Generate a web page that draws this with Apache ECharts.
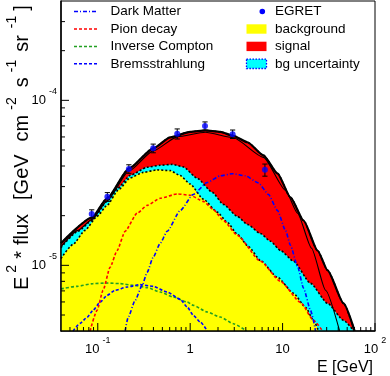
<!DOCTYPE html>
<html><head><meta charset="utf-8">
<script src="https://cdn.jsdelivr.net/npm/echarts@6/dist/echarts.min.js"></script>
<style>html,body{margin:0;padding:0;background:#fff}#c{width:390px;height:376px}</style>
</head><body><div id="c"></div>
<script>
// ---------- data (energies in GeV, E^2*flux in GeV cm^-2 s^-1 sr^-1) ----------
const egretE    = [0.086, 0.127, 0.217, 0.398, 0.724, 1.447, 2.88, 6.44];
const egretFlux = [2.05e-5, 2.60e-5, 3.84e-5, 5.12e-5, 6.27e-5, 6.98e-5, 6.24e-5, 3.79e-5];
const egretErr  = [1.2e-6, 1.6e-6, 2.3e-6, 3.1e-6, 4.4e-6, 4.2e-6, 3.7e-6, 3.2e-6];

const totalE    = [0.04, 0.0867, 0.126, 0.2185, 0.398, 0.608, 1.0, 1.458, 2.121, 2.935, 4.163, 6.206, 8.807, 12.18, 16.86, 23.9, 30.69, 45.77, 60.2];
const totalFlux = [1.36e-5, 1.95e-5, 2.55e-5, 3.87e-5, 5.12e-5, 5.97e-5, 6.44e-5, 6.58e-5, 6.44e-5, 6.09e-5, 5.57e-5, 4.64e-5, 3.61e-5, 2.58e-5, 1.87e-5, 1.23e-5, 9.32e-6, 5.88e-6, 4.0e-6];

const lowerE    = [0.04, 0.0611, 0.0867, 0.126, 0.2185, 0.398, 0.7246, 1.458, 2.935, 6.206, 10.75, 14.51, 20.58, 29.2, 41.41];
const lowerFlux = [1.30e-5, 1.63e-5, 1.90e-5, 2.46e-5, 3.74e-5, 4.94e-5, 6.01e-5, 6.40e-5, 5.93e-5, 4.51e-5, 2.85e-5, 2.07e-5, 1.27e-5, 7.06e-6, 4.0e-6];

const bgHighE    = [0.04, 0.0611, 0.0867, 0.126, 0.166, 0.224, 0.342, 0.474, 0.639, 0.842, 1.194, 1.737, 2.286, 3.243, 4.163, 5.758, 7.393, 9.489, 13.13, 20.07, 30.69, 45.77, 58.75];
const bgHighFlux = [1.28e-5, 1.61e-5, 1.87e-5, 2.44e-5, 2.95e-5, 3.51e-5, 3.93e-5, 4.04e-5, 4.09e-5, 3.95e-5, 3.37e-5, 2.77e-5, 2.34e-5, 1.98e-5, 1.77e-5, 1.56e-5, 1.40e-5, 1.23e-5, 1.06e-5, 7.78e-6, 5.88e-6, 4.64e-6, 4.0e-6];

const bgE    = [0.04, 0.054, 0.0728, 0.0983, 0.126, 0.166, 0.224, 0.31, 0.44, 0.608, 0.781, 1.0, 1.387, 1.967, 2.526, 3.243, 4.268, 5.758, 8.807, 13.13, 17.72, 21.63, 24.51];
const bgFlux = [1.10e-5, 1.34e-5, 1.63e-5, 1.98e-5, 2.31e-5, 2.85e-5, 3.39e-5, 3.66e-5, 3.79e-5, 3.75e-5, 3.50e-5, 3.11e-5, 2.52e-5, 2.10e-5, 1.82e-5, 1.54e-5, 1.30e-5, 1.07e-5, 8.46e-6, 6.77e-6, 5.57e-6, 4.64e-6, 4.0e-6];

const dmE    = [0.1977, 0.2131, 0.2539, 0.3022, 0.3424, 0.398, 0.474, 0.5644, 0.781, 1.08, 1.532, 2.121, 2.862, 3.959, 5.478, 7.034, 8.807, 10.75, 12.18, 14.51, 16.86, 20.07, 22.74];
const dmFlux = [4.0e-6, 4.84e-6, 6.14e-6, 7.57e-6, 9.07e-6, 1.12e-5, 1.36e-5, 1.61e-5, 2.15e-5, 2.69e-5, 3.18e-5, 3.49e-5, 3.59e-5, 3.49e-5, 3.16e-5, 2.69e-5, 2.15e-5, 1.63e-5, 1.32e-5, 9.86e-6, 7.26e-6, 5.34e-6, 4.0e-6];

const pionE    = [0.0825, 0.0983, 0.1141, 0.1359, 0.1619, 0.1977, 0.2668, 0.3424, 0.4739, 0.7246, 1.0, 1.387, 1.78, 2.286, 3.243, 5.758, 9.489, 15.64, 21.63, 27.09];
const pionFlux = [4.0e-6, 5.34e-6, 7.06e-6, 9.73e-6, 1.23e-5, 1.61e-5, 2.07e-5, 2.31e-5, 2.55e-5, 2.71e-5, 2.66e-5, 2.44e-5, 2.18e-5, 1.87e-5, 1.52e-5, 1.06e-5, 8.0e-6, 5.97e-6, 4.64e-6, 4.0e-6];

const icE    = [0.04, 0.0596, 0.0889, 0.126, 0.1745, 0.2415, 0.3424, 0.474, 0.6556, 0.93, 1.08, 1.532, 2.121, 2.935, 4.06];
const icFlux = [7.2e-6, 7.46e-6, 7.75e-6, 7.81e-6, 7.75e-6, 7.57e-6, 7.33e-6, 6.89e-6, 6.43e-6, 5.99e-6, 5.72e-6, 5.21e-6, 4.86e-6, 4.43e-6, 4.0e-6];

const bremsE    = [0.054, 0.0643, 0.0766, 0.0889, 0.1059, 0.126, 0.154, 0.2078, 0.2875, 0.398, 0.5644, 0.781, 0.93, 1.08, 1.287, 1.532];
const bremsFlux = [4.0e-6, 4.45e-6, 4.84e-6, 5.34e-6, 5.97e-6, 6.58e-6, 7.06e-6, 7.39e-6, 7.64e-6, 7.46e-6, 6.89e-6, 6.22e-6, 5.59e-6, 4.98e-6, 4.53e-6, 4.0e-6];

// axis ranges and ticks
const xRange = [0.04, 100];
const yRange = [4e-6, 4e-4];
const xMajorTicks = [0.1, 1, 10, 100];
const xMinorTicks = [0.05, 0.06, 0.07, 0.08, 0.09, 0.2, 0.3, 0.4, 0.5, 0.6, 0.7, 0.8, 0.9, 2, 3, 4, 5, 6, 7, 8, 9, 20, 30, 40, 50, 60, 70, 80, 90];
const yMajorTicks = [1e-5, 1e-4];
const yMinorTicks = [5e-6, 6e-6, 7e-6, 8e-6, 9e-6, 2e-5, 3e-5, 4e-5, 5e-5, 6e-5, 7e-5, 8e-5, 9e-5, 2e-4, 3e-4];

const legendLines = ['Dark Matter', 'Pion decay', 'Inverse Compton', 'Bremsstrahlung'];
const legendBoxes = ['EGRET', 'background', 'signal', 'bg uncertainty'];
const xTitle = 'E [GeV]';

// ---------- chart ----------
const FONT = '"Liberation Sans", Arial, Helvetica, sans-serif';
const pairs = (xs, ys) => xs.map((x, i) => [x, ys[i]]);
const chart = echarts.init(document.getElementById('c'), null, {renderer: 'canvas'});

function powLabel(v) {
  const l = Math.log10(v), p = Math.round(l);
  if (Math.abs(l - p) > 1e-6) return '';
  if (p === 0) return '{b|1}';
  if (p === 1) return '{b|10}';
  return '{b|10}{s|' + p + '}';
}
const labelRich = {
  b: {fontSize: 13, fontFamily: FONT, color: '#000', lineHeight: 22},
  s: {fontSize: 9, fontFamily: FONT, color: '#000', lineHeight: 5, padding: [0, 0, 17, 3]}
};

const SMOOTH = 0.2;
const lineSeries = (name, xs, ys, color, dash, width, z) => ({
  type: 'line', name, data: pairs(xs, ys), symbol: 'none', smooth: SMOOTH, smoothMonotone: 'x',
  lineStyle: {color, type: dash, width}, z, silent: true, clip: true
});
const areaSeries = (name, xs, ys, fill, z) => ({
  type: 'line', name, data: pairs(xs, ys), symbol: 'none', smooth: SMOOTH, smoothMonotone: 'x',
  lineStyle: {color: '#000', type: [2, 2], width: 1.6},
  areaStyle: {color: fill, opacity: 1, origin: 'start'}, z, silent: true, clip: true
});

const legendRowsY = [11.5, 29, 46.4, 63.8];
const graphic = [];
legendLines.forEach((t, i) => {
  graphic.push({type: 'text', x: 110.5, y: legendRowsY[i], z: 20,
    style: {text: t, font: '13.5px ' + FONT, fill: '#000', align: 'left', verticalAlign: 'middle'}});
  graphic.push({type: 'text', x: 275, y: legendRowsY[i], z: 20,
    style: {text: legendBoxes[i], font: '13.5px ' + FONT, fill: '#000', align: 'left', verticalAlign: 'middle'}});
});
const legStyles = [
  {stroke: '#0000ff', lineDash: [4, 2, 1, 2]},
  {stroke: '#ff0000', lineDash: [3, 2]},
  {stroke: '#22a022', lineDash: [3, 2]},
  {stroke: '#0000ff', lineDash: [3, 2]}
];
legStyles.forEach((s, i) => graphic.push({type: 'line', z: 20,
  shape: {x1: 74, y1: legendRowsY[i], x2: 98, y2: legendRowsY[i]},
  style: Object.assign({lineWidth: 1.5}, s)}));
graphic.push({type: 'circle', z: 20, shape: {cx: 262.3, cy: legendRowsY[0], r: 2.8}, style: {fill: '#0000ff'}});
graphic.push({type: 'rect', z: 20, shape: {x: 246.5, y: legendRowsY[1] - 4.7, width: 20, height: 9.4}, style: {fill: '#ffff00'}});
graphic.push({type: 'rect', z: 20, shape: {x: 246.5, y: legendRowsY[2] - 4.7, width: 20, height: 9.4}, style: {fill: '#ff0000'}});
graphic.push({type: 'rect', z: 20, shape: {x: 246.5, y: legendRowsY[3] - 4.7, width: 20, height: 9.4},
  style: {fill: '#00ffff', stroke: '#0000ff', lineWidth: 1.3, lineDash: [1.5, 1.5]}});
// axis titles
graphic.push({type: 'text', x: 373, y: 368, z: 20,
  style: {text: xTitle, font: '16px ' + FONT, fill: '#000', align: 'right', verticalAlign: 'middle'}});
const M = {fontSize: 20, fontFamily: FONT, fill: '#000', color: '#000', lineHeight: 26};
const S = {fontSize: 14, fontFamily: FONT, fill: '#000', color: '#000', lineHeight: 6};
const mk = (base, pl, extraBottom) => Object.assign({}, base, {padding: [0, 0, extraBottom, pl]});
graphic.push({type: 'text', x: 22, y: 290, rotation: Math.PI / 2, z: 20, originX: 0, originY: 0,
  style: {text: '{e|E}{s1|2}{st|*}{fl|flux}{gv|[GeV}{cm|cm}{s2|-2}{ss|s}{s3|-1}{sr|sr}{s4|-1}{br|]}',
    align: 'left', verticalAlign: 'middle',
    rich: {e: mk(M, 0, 0), st: mk(M, 6, 0), fl: mk(M, 6, 0), gv: mk(M, 14, 0), cm: mk(M, 13, 0),
           ss: mk(M, 10, 0), sr: mk(M, 8, 0), br: mk(M, 5, 0),
           s1: mk(S, 4, 20), s2: mk(S, 5, 20), s3: mk(S, 5, 20), s4: mk(S, 7, 20)}}});

const tickData = [];
xMajorTicks.forEach(v => tickData.push([v, yRange[0], 0]));
xMinorTicks.forEach(v => tickData.push([v, yRange[0], 1]));
yMajorTicks.forEach(v => tickData.push([xRange[0], v, 2]));
yMinorTicks.forEach(v => tickData.push([xRange[0], v, 3]));

const option = {
  animation: false,
  grid: {left: 61, right: 15, top: 1, bottom: 45, show: true, borderColor: '#000', borderWidth: 1, backgroundColor: '#fff'},
  xAxis: {type: 'log', logBase: 10, min: xRange[0], max: xRange[1], z: 10,
    axisLine: {show: true, onZero: false, lineStyle: {color: '#000', width: 1.5}},
    axisTick: {show: false}, splitLine: {show: false},
    axisLabel: {margin: 7, formatter: powLabel, rich: labelRich, showMinLabel: false}},
  yAxis: {type: 'log', logBase: 10, min: yRange[0], max: yRange[1], z: 10,
    axisLine: {show: true, onZero: false, lineStyle: {color: '#000', width: 1.5}},
    axisTick: {show: false}, splitLine: {show: false},
    axisLabel: {margin: 4, formatter: powLabel, rich: labelRich, showMinLabel: false, showMaxLabel: false}},
  graphic: {elements: graphic},
  series: [
    areaSeries('signal', totalE, totalFlux, '#ff0000', 1),
    areaSeries('bg uncertainty', bgHighE, bgHighFlux, '#00ffff', 2),
    areaSeries('background', bgE, bgFlux, '#ffff00', 3),
    lineSeries('Inverse Compton', icE, icFlux, '#22a022', [3, 2], 1.6, 4),
    lineSeries('Bremsstrahlung', bremsE, bremsFlux, '#0000ff', [3, 2], 1.6, 4),
    lineSeries('Pion decay', pionE, pionFlux, '#ff0000', [3, 2], 1.6, 4),
    lineSeries('Dark Matter', dmE, dmFlux, '#0000ff', [4, 2, 1, 2], 1.6, 4),
    lineSeries('fit (low bg)', lowerE, lowerFlux, '#000', 'solid', 1.1, 5),
    lineSeries('total', totalE, totalFlux, '#000', 'solid', 2.2, 6),
    {type: 'custom', name: 'EGRET errors', silent: true, z: 7, clip: false,
      data: egretE.map((e, i) => [e, egretFlux[i], egretErr[i]]),
      encode: {x: 0, y: 1},
      renderItem: (params, api) => {
        const x = api.value(0), y = api.value(1), err = api.value(2);
        const lo = api.coord([x, y - err]), hi = api.coord([x, y + err]);
        const w = 2.6, st = {stroke: '#000', lineWidth: 1};
        return {type: 'group', children: [
          {type: 'line', shape: {x1: lo[0], y1: lo[1], x2: hi[0], y2: hi[1]}, style: st},
          {type: 'line', shape: {x1: lo[0] - w, y1: lo[1], x2: lo[0] + w, y2: lo[1]}, style: st},
          {type: 'line', shape: {x1: hi[0] - w, y1: hi[1], x2: hi[0] + w, y2: hi[1]}, style: st}
        ]};
      }},
    {type: 'scatter', name: 'EGRET', data: pairs(egretE, egretFlux), symbol: 'circle', symbolSize: 6,
      itemStyle: {color: '#0000ff'}, z: 8, silent: true},
    {type: 'custom', name: 'ticks', silent: true, z: 12, clip: false, data: tickData, encode: {x: 0, y: 1},
      renderItem: (params, api) => {
        const kind = api.value(2);
        const p = api.coord([api.value(0), api.value(1)]);
        const len = (kind === 0 || kind === 2) ? 8 : 4;
        const shape = kind < 2 ? {x1: p[0], y1: p[1], x2: p[0], y2: p[1] - len}
                               : {x1: p[0], y1: p[1], x2: p[0] + len, y2: p[1]};
        return {type: 'line', shape, style: {stroke: '#000', lineWidth: 1}};
      }}
  ]
};
chart.setOption(option);
</script></body></html>
